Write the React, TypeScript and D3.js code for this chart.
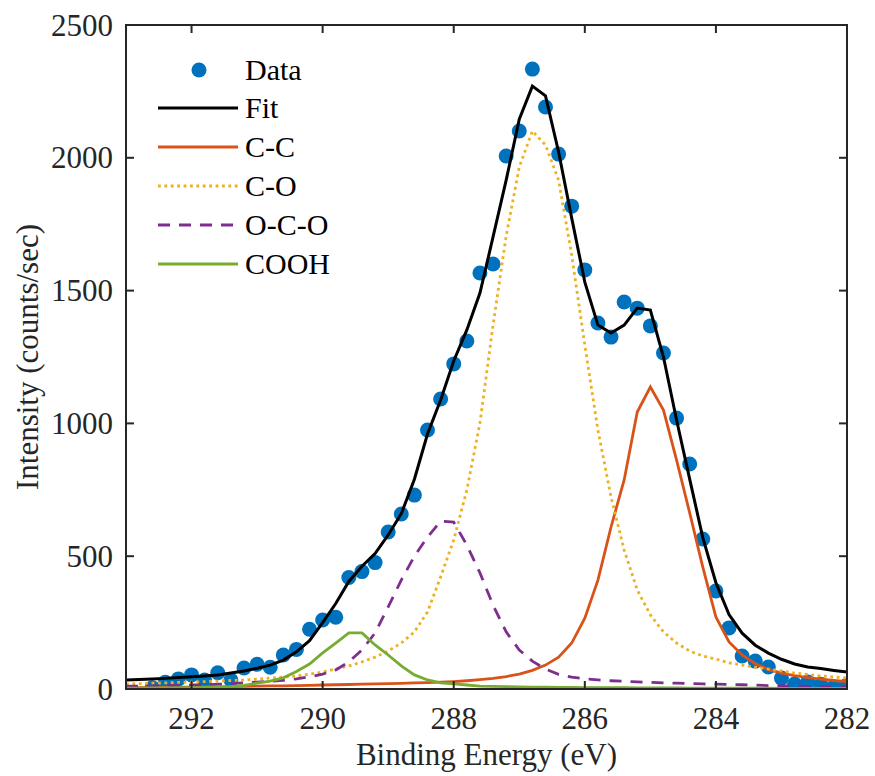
import React from 'react';
import * as d3 from 'd3';

// binding energy grid of the fitted curves (eV)
const fitEnergy = [
  293.0, 292.8, 292.6, 292.4, 292.2, 292.0, 291.8, 291.6, 291.4, 291.2,
  291.0, 290.8, 290.6, 290.4, 290.2, 290.0, 289.8, 289.6, 289.4, 289.2,
  289.0, 288.8, 288.6, 288.4, 288.2, 288.0, 287.8, 287.6, 287.4, 287.2,
  287.0, 286.8, 286.6, 286.4, 286.2, 286.0, 285.8, 285.6, 285.4, 285.2,
  285.0, 284.8, 284.6, 284.4, 284.2, 284.0, 283.8, 283.6, 283.4, 283.2,
  283.0, 282.8, 282.6, 282.4, 282.2, 282.0,
];

const fitTotal = [
  34, 36, 38, 40, 43, 46, 49, 53, 60, 68,
  78, 90, 109, 140, 182, 250, 322, 405, 462, 510,
  580, 660, 790, 960, 1088, 1235, 1352, 1491, 1702, 1916,
  2145, 2270, 2233, 2022, 1773, 1532, 1370, 1340, 1370, 1434,
  1427, 1250, 1013, 790, 570, 400, 280, 210, 165, 135,
  112, 94, 83, 77, 70, 64,
];

const cc = [
  5, 5, 6, 6, 7, 7, 8, 8, 9, 10,
  11, 12, 12, 13, 14, 15, 16, 17, 18, 19,
  20, 21, 23, 24, 26, 28, 31, 35, 40, 47,
  56, 70, 90, 120, 173, 267, 410, 610, 787, 1043,
  1137, 1050, 862, 663, 459, 271, 177, 128, 95, 74,
  60, 50, 43, 37, 32, 28,
];

const co = [
  19, 20, 22, 23, 25, 26, 28, 30, 32, 34,
  37, 41, 45, 49, 56, 64, 75, 87, 102, 120,
  143, 173, 215, 290, 422, 561, 749, 1001, 1370, 1705,
  1965, 2101, 2048, 1916, 1634, 1295, 975, 723, 523, 373,
  279, 215, 173, 143, 124, 113, 98, 90, 82, 75,
  68, 60, 55, 49, 45, 41,
];

const oco = [
  11, 11, 12, 13, 14, 15, 16, 18, 20, 23,
  26, 29, 33, 38, 46, 56, 72, 102, 147, 211,
  309, 410, 500, 572, 632, 628, 542, 437, 316, 215,
  147, 105, 75, 55, 45, 38, 34, 31, 29, 27,
  25, 23, 22, 21, 19, 18, 17, 16, 15, 13,
  12, 11, 10, 9, 8, 8,
];

const cooh = [
  3, 3, 4, 4, 5, 5, 6, 7, 9, 14,
  22, 30, 42, 66, 94, 136, 173, 211, 211, 166,
  128, 87, 53, 34, 23, 19, 15, 11, 10, 9,
  8, 7, 7, 6, 6, 5, 5, 5, 5, 4,
  4, 4, 4, 3, 3, 3, 3, 3, 3, 3,
  2, 2, 2, 2, 2, 2,
];

// measured points
const dataEnergy = [
  292.6, 292.4, 292.2, 292.0, 291.8, 291.6, 291.4, 291.2, 291.0, 290.8,
  290.6, 290.4, 290.2, 290.0, 289.8, 289.6, 289.4, 289.2, 289.0, 288.8,
  288.6, 288.4, 288.2, 288.0, 287.8, 287.6, 287.4, 287.2, 287.0, 286.8,
  286.6, 286.4, 286.2, 286.0, 285.8, 285.6, 285.4, 285.2, 285.0, 284.8,
  284.6, 284.4, 284.2, 284.0, 283.8, 283.6, 283.4, 283.2, 283.0, 282.8,
  282.6, 282.4, 282.2, 282.0,
];

const dataCounts = [
  5, 25, 38, 53, 34, 61, 34, 79, 93, 82,
  128, 149, 225, 260, 270, 420, 442, 476, 591, 659,
  730, 975, 1092, 1224, 1310, 1566, 1600, 2007, 2101, 2334,
  2191, 2014, 1818, 1578, 1378, 1325, 1457, 1434, 1367, 1265,
  1020, 847, 565, 369, 230, 124, 105, 83, 41, 19,
  26, 18, 8, 15,
];

const xTicks = [292, 290, 288, 286, 284, 282];
const yTicks = [0, 500, 1000, 1500, 2000, 2500];

const series = [
  { name: 'Fit', values: fitTotal, color: '#000000', width: 3, dash: null },
  { name: 'C-C', values: cc, color: '#D95319', width: 2.8, dash: null },
  { name: 'C-O', values: co, color: '#EDB120', width: 2.8, dash: '2.8,3.6' },
  { name: 'O-C-O', values: oco, color: '#7E2F8E', width: 2.8, dash: '12,9' },
  { name: 'COOH', values: cooh, color: '#77AC30', width: 2.8, dash: null },
];

const serif = { fontFamily: "'Liberation Serif', 'DejaVu Serif', serif" };
const axisColor = '#262626';

export default function App() {
  const W = 875;
  const H = 776;
  const left = 126;
  const right = 847;
  const top = 25;
  const bottom = 689;

  const x = d3.scaleLinear().domain([293, 282]).range([left, right]);
  const y = d3.scaleLinear().domain([0, 2500]).range([bottom, top]);

  const line = d3
    .line<number>()
    .x((_, i) => x(fitEnergy[i]))
    .y((d) => y(d));

  const tick = 8;
  const legendRows = [70, 108, 147, 186, 225, 264];

  return (
    <div style={{ position: 'absolute', left: 0, top: 0 }}>
      <svg width={W} height={H} style={{ display: 'block', background: '#fff' }}>
        <defs>
          <clipPath id="plotClip">
            <rect x={left} y={top} width={right - left} height={bottom - top} />
          </clipPath>
        </defs>

        {/* data points */}
        <g clipPath="url(#plotClip)">
          {dataCounts.map((v, i) => (
            <circle key={i} cx={x(dataEnergy[i])} cy={y(v)} r={7.5} fill="#0072BD" />
          ))}
        </g>
        <g clipPath="url(#plotClip)">
          {series.map((s) => (
            <path
              key={s.name}
              d={line(s.values) || ''}
              fill="none"
              stroke={s.color}
              strokeWidth={s.width}
              strokeDasharray={s.dash || undefined}
              strokeLinejoin="miter"
            />
          ))}
        </g>

        {/* box */}
        <rect
          x={left}
          y={top}
          width={right - left}
          height={bottom - top}
          fill="none"
          stroke={axisColor}
          strokeWidth={2}
        />

        <g style={serif} fontSize={31} fill={axisColor}>
          {/* x ticks */}
          {xTicks.map((t) => (
            <g key={t}>
              <line x1={x(t)} x2={x(t)} y1={bottom} y2={bottom - tick} stroke={axisColor} strokeWidth={2} />
              <line x1={x(t)} x2={x(t)} y1={top} y2={top + tick} stroke={axisColor} strokeWidth={2} />
              <text x={x(t)} y={729} textAnchor="middle">
                {t}
              </text>
            </g>
          ))}

          {/* y ticks */}
          {yTicks.map((t) => (
            <g key={t}>
              <line x1={left} x2={left + tick} y1={y(t)} y2={y(t)} stroke={axisColor} strokeWidth={2} />
              <line x1={right} x2={right - tick} y1={y(t)} y2={y(t)} stroke={axisColor} strokeWidth={2} />
              <text x={113} y={y(t) + 10.5} textAnchor="end">
                {t}
              </text>
            </g>
          ))}

          {/* axis titles */}
          <text x={(left + right) / 2} y={765} textAnchor="middle">
            Binding Energy (eV)
          </text>
          <text
            transform={`translate(38,${(top + bottom) / 2}) rotate(-90)`}
            textAnchor="middle"
          >
            Intensity (counts/sec)
          </text>
        </g>

        {/* legend */}
        <g style={serif} fontSize={30} fill="#000">
          <circle cx={199} cy={legendRows[0]} r={7.5} fill="#0072BD" />
          <text x={245} y={legendRows[0] + 10}>Data</text>
          {series.map((s, i) => (
            <g key={s.name}>
              <line
                x1={158}
                x2={238}
                y1={legendRows[i + 1]}
                y2={legendRows[i + 1]}
                stroke={s.color}
                strokeWidth={s.width}
                strokeDasharray={s.dash || undefined}
              />
              <text x={245} y={legendRows[i + 1] + 10}>{s.name}</text>
            </g>
          ))}
        </g>
      </svg>
    </div>
  );
}
